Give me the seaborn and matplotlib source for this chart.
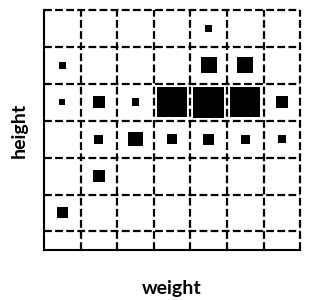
import matplotlib
matplotlib.use("Agg")
import matplotlib.pyplot as plt
import pandas as pd
import seaborn as sns

# cell centres (column = weight bin, row = height bin) and counts per cell
weight_bin = [4, 0, 4, 5, 0, 1, 2, 3, 4, 5, 6, 1, 2, 3, 4, 5, 6, 1, 0]
height_bin = [6, 5, 5, 5, 4, 4, 4, 4, 4, 4, 4, 3, 3, 3, 3, 3, 3, 2, 1]
count = [5, 5, 26, 25, 4, 14, 6, 90, 96, 90, 14, 8, 20, 10, 12, 8, 6, 14, 12]

n_cols = 7
n_rows = 7

df = pd.DataFrame({
    "weight": [w + 0.5 for w in weight_bin],
    "height": [h + 0.5 for h in height_bin],
    "count": count,
})

sns.set_theme(style="white")
plt.rcParams["font.family"] = ["Lato", "DejaVu Sans"]

fig = plt.figure(figsize=(3.12, 3.0), dpi=100)
ax = fig.add_axes([0.141, 0.167, 0.821, 0.8])

max_count = max(count)
sns.scatterplot(
    data=df, x="weight", y="height", size="count",
    sizes=(0, max_count * 5.2), size_norm=(0, max_count),
    marker="s", color="black", linewidth=0, legend=False, ax=ax,
)

ax.set_xlim(0, n_cols)
ax.set_ylim(0.5, n_rows)
ax.set_xticks(range(1, n_cols + 1))
ax.set_yticks(range(1, n_rows + 1))
ax.tick_params(length=0, labelbottom=False, labelleft=False)
ax.grid(True, color="black", linewidth=1.6, linestyle=(0, (3.5, 1.5)))
for gl in ax.get_xgridlines() + ax.get_ygridlines():
    gl.set_clip_on(False)

for side in ["top", "right"]:
    ax.spines[side].set_visible(False)
for side in ["left", "bottom"]:
    ax.spines[side].set_color("black")
    ax.spines[side].set_linewidth(1.5)

ax.set_xlabel("weight", fontsize=14, fontweight="bold", color="black", labelpad=22)
ax.set_ylabel("height", fontsize=14, fontweight="bold", color="black", labelpad=12)

fig.savefig("out.png", dpi=100)
plt.close(fig)
